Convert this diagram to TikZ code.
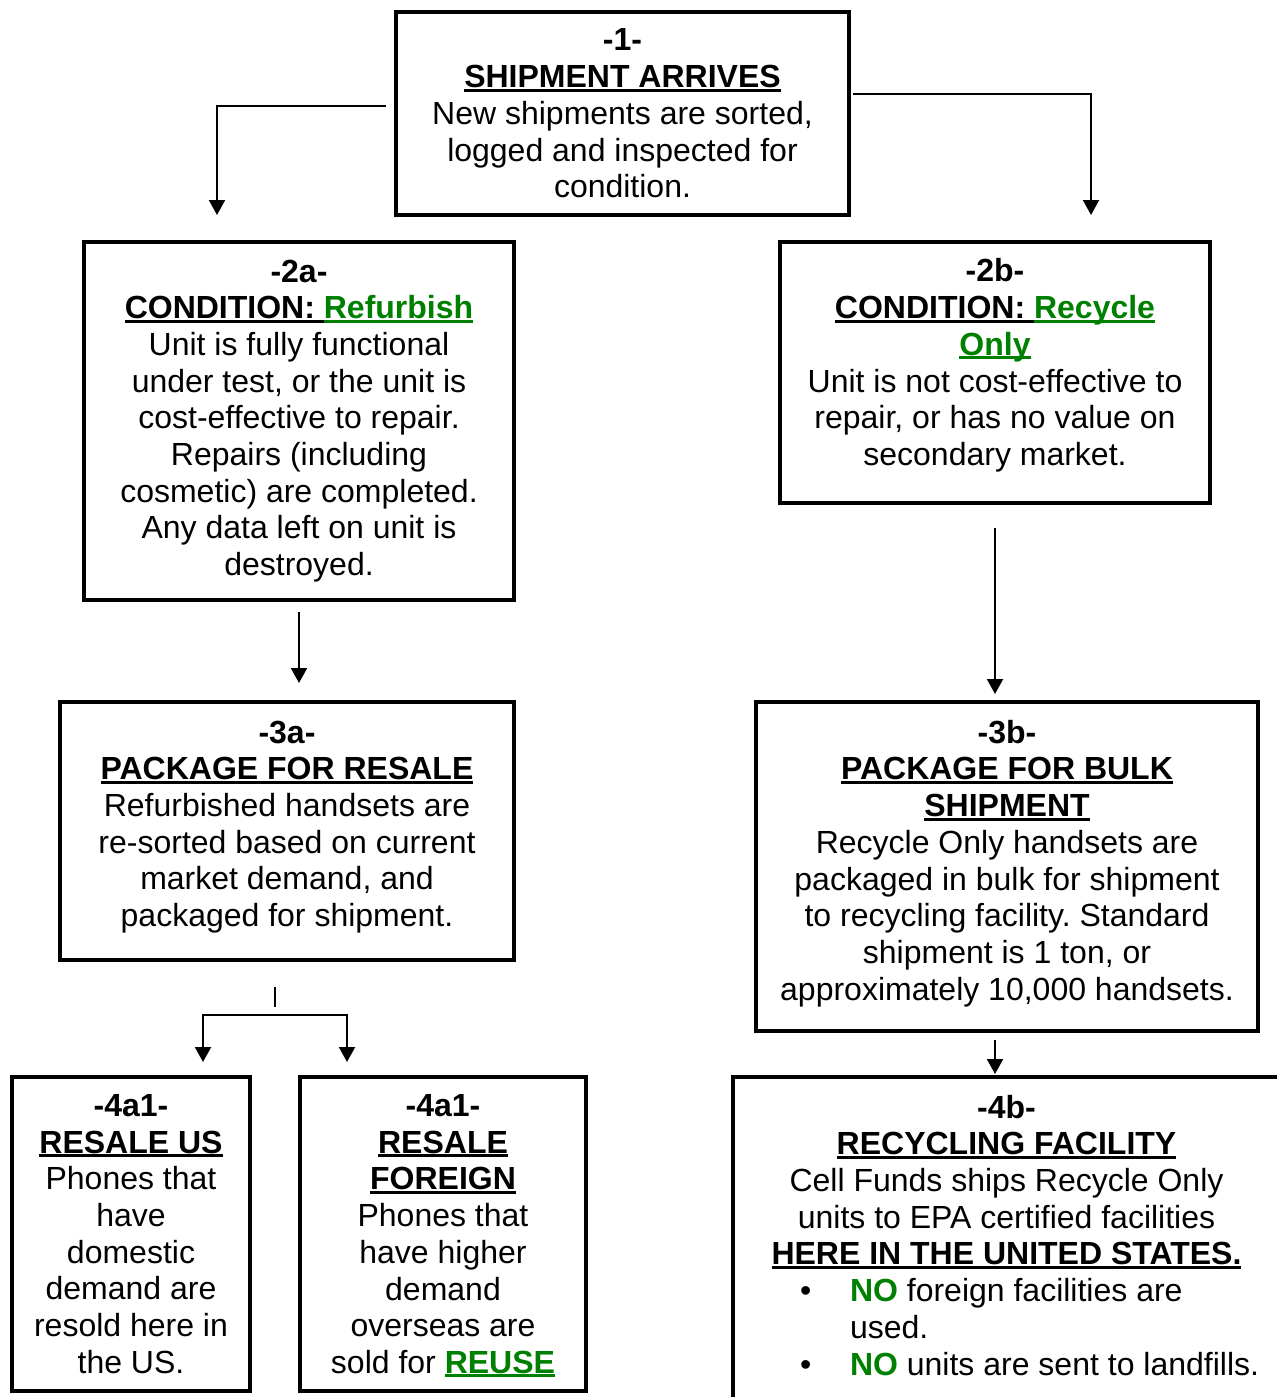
\documentclass[tikz,border=0pt]{standalone}
\usepackage{fontspec}
\setmainfont{Liberation Sans}
\usepackage{xcolor}
\usepackage{tikz}
\usetikzlibrary{shapes,arrows.meta,positioning}
\definecolor{okgreen}{RGB}{0,128,0}
\frenchspacing
\newsavebox{\ulsave}
\newcommand{\ulbox}[1]{\sbox{\ulsave}{#1}\rlap{\rule[-2pt]{\wd\ulsave}{1.5pt}}\usebox{\ulsave}}
\newcommand{\uhead}[1]{\ulbox{\textbf{#1}}}
\newcommand{\ugreen}[1]{\textcolor{okgreen}{\ulbox{\textbf{#1}}}}
\newcommand{\bulletline}[2]{\makebox[206.5pt][l]{\makebox[25pt][l]{#1}#2}}
\tikzstyle{stage} = [draw, line width=2pt, align=center, inner sep=0pt, font=\fontsize{16}{18.35}\selectfont]
\tikzstyle{arrow} = [draw, line width=1pt, -{Triangle[length=7.5pt,width=8pt]}]
\tikzstyle{link} = [draw, line width=1pt]
\newcommand{\stage}[4]{node (s#1) [stage, minimum width=#2, #3] {#4}}

\begin{document}
\begin{tikzpicture}[x=0.5pt,y=-0.5pt]
\path [use as bounding box,clip] (0,0) rectangle (1277,1397);
\path (622.5,113.5) \stage{1}{226.5pt}{minimum height=101.5pt}{\textbf{-1-}\\ \uhead{SHIPMENT ARRIVES}\\ New shipments are sorted,\\ logged and inspected for\\ condition.};
\path (s1)+(-323.5,307.5) \stage{2a}{215pt}{minimum height=179pt}{\textbf{-2a-}\\ \uhead{CONDITION: }\ugreen{Refurbish}\\ Unit is fully functional\\ under test, or the unit is\\ cost-effective to repair.\\ Repairs (including\\ cosmetic) are completed.\\ Any data left on unit is\\ destroyed.};
\path (s1)+(372.5,259) \stage{2b}{215pt}{minimum height=130.5pt, text depth=10.4pt}{\textbf{-2b-}\\ \uhead{CONDITION: }\ugreen{Recycle}\\ \ugreen{Only}\\ Unit is not cost-effective to\\ repair, or has no value on\\ secondary market.};

\path (s2a)+(-12,410) \stage{3a}{227pt}{minimum height=129pt, text depth=7.4pt}{\textbf{-3a-}\\ \uhead{PACKAGE FOR RESALE}\\ Refurbished handsets are\\ re-sorted based on current\\ market demand, and\\ packaged for shipment.};
\path (s2b)+(12,494) \stage{3b}{251pt}{minimum height=164.5pt, text depth=6.4pt}{\textbf{-3b-}\\ \uhead{PACKAGE FOR BULK}\\ \uhead{SHIPMENT}\\ Recycle Only handsets are\\ packaged in bulk for shipment\\ to recycling facility. Standard\\ shipment is 1 ton, or\\ approximately 10,000 handsets.};

\path (s3a)+(-156,403) \stage{4l}{119pt}{minimum height=157pt}{\textbf{-4a1-}\\ \uhead{RESALE US}\\ Phones that\\ have\\ domestic\\ demand are\\ resold here in\\ the US.};
\path (s3a)+(156,403) \stage{4r}{143pt}{minimum height=157pt, text depth=0pt}{\textbf{-4a1-}\\ \uhead{RESALE}\\ \uhead{FOREIGN}\\ Phones that\\ have higher\\ demand\\ overseas are\\ sold for \ugreen{REUSE}};
\path (s3b)+(-0.5,371.5) \stage{4b}{273.5pt}{minimum height=161pt, text depth=3pt}{\textbf{-4b-}\\ \uhead{RECYCLING FACILITY}\\ Cell Funds ships Recycle Only\\ units to EPA certified facilities\\ \uhead{HERE IN THE UNITED STATES.}\\ \bulletline{\textbullet}{\textcolor{okgreen}{\textbf{NO}} foreign facilities are}\\ \bulletline{}{used.}\\ \bulletline{\textbullet}{\textcolor{okgreen}{\textbf{NO}} units are sent to landfills.}};

\path [arrow] ([xshift=-4pt,yshift=3.75pt]s1.west) -| ([xshift=-41pt,yshift=12.5pt]s2a.north);
\path [arrow] ([xshift=1pt,yshift=9.75pt]s1.east) -| ([xshift=48pt,yshift=12.5pt]s2b.north);
\path [arrow] ([yshift=-5pt]s2a.south) -- ([xshift=6pt,yshift=8.5pt]s3a.north);
\path [arrow] ([yshift=-11.5pt]s2b.south) -- ([xshift=-6pt,yshift=3pt]s3b.north);

\path [link] ([xshift=-6pt,yshift=-12.5pt]s3a.south) -- ([xshift=-6pt,yshift=-22.5pt]s3a.south);
\coordinate (split) at ([xshift=-6pt,yshift=-26.5pt]s3a.south);
\path [arrow] (split) -| ([xshift=36pt,yshift=6.5pt]s4l.north);
\path [arrow] (split) -| ([xshift=-48pt,yshift=6.5pt]s4r.north);
\path [arrow] ([xshift=-6pt,yshift=-3.5pt]s3b.south) -- ([xshift=-5.75pt,yshift=0.5pt]s4b.north);
\end{tikzpicture}
\end{document}
